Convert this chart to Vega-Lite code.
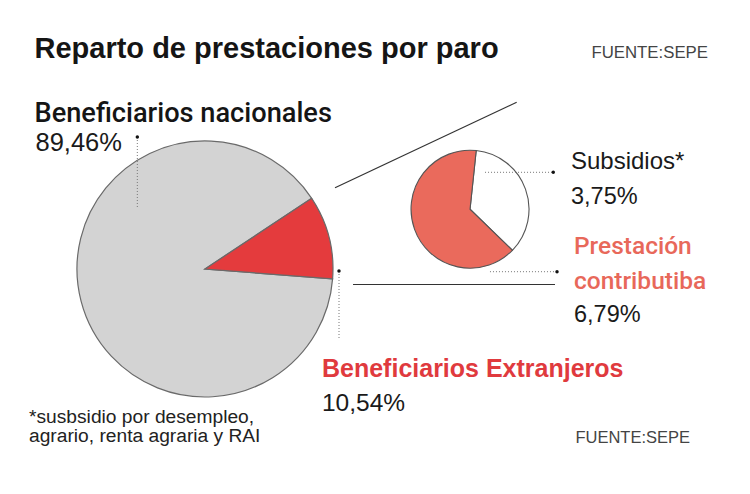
{
  "$schema": "https://vega.github.io/schema/vega-lite/v6.json",
  "width": 750,
  "height": 494,
  "autosize": {"type": "fit", "contains": "padding"},
  "padding": 0,
  "background": "white",
  "config": {
    "view": {"stroke": null},
    "font": "Liberation Sans",
    "text": {"font": "Liberation Sans", "align": "left", "baseline": "alphabetic", "color": "#1a1a1a"},
    "locale": {"number": {"decimal": ",", "thousands": ".", "grouping": [3], "currency": ["", " €"]}}
  },
  "datasets": {
    "reparto": [
      {"grafico": "Total", "categoria": "Beneficiarios nacionales", "valor": 0.8946},
      {"grafico": "Total", "categoria": "Beneficiarios Extranjeros", "valor": 0.1054},
      {"grafico": "Extranjeros", "categoria": "Subsidios*", "valor": 0.0375},
      {"grafico": "Extranjeros", "categoria": "Prestación contributiba", "valor": 0.0679}
    ]
  },
  "layer": [
    {
      "data": {"name": "reparto"},
      "transform": [{"filter": "datum.grafico === 'Total'"}],
      "mark": {"type": "arc", "radius": 128, "stroke": "#6a6a6a", "strokeWidth": 1.2},
      "encoding": {
        "theta": {"field": "valor", "type": "quantitative", "stack": true, "scale": {"range": [0.986, 7.269]}},
        "order": {"field": "valor", "sort": "ascending"},
        "color": {"field": "categoria", "type": "nominal", "legend": null,
          "scale": {"domain": ["Beneficiarios nacionales", "Beneficiarios Extranjeros", "Subsidios*", "Prestación contributiba"],
                    "range": ["#d3d3d3", "#e43b3d", "#ffffff", "#ea6a5c"]}},
        "x": {"datum": 27.33, "type": "quantitative", "scale": {"domain": [0, 100]}, "axis": null},
        "y": {"datum": 54.45, "type": "quantitative", "scale": {"domain": [100, 0]}, "axis": null}
      }
    },
    {
      "data": {"name": "reparto"},
      "transform": [{"filter": "datum.grafico === 'Extranjeros'"}],
      "mark": {"type": "arc", "radius": 59, "stroke": "#555555", "strokeWidth": 1.1},
      "encoding": {
        "theta": {"field": "valor", "type": "quantitative", "stack": true, "scale": {"range": [0.105, 6.388]}},
        "order": {"field": "valor", "sort": "ascending"},
        "color": {"field": "categoria", "type": "nominal", "legend": null,
          "scale": {"domain": ["Beneficiarios nacionales", "Beneficiarios Extranjeros", "Subsidios*", "Prestación contributiba"],
                    "range": ["#d3d3d3", "#e43b3d", "#ffffff", "#ea6a5c"]}},
        "x": {"datum": 62.67, "type": "quantitative", "scale": {"domain": [0, 100]}, "axis": null},
        "y": {"datum": 42.35, "type": "quantitative", "scale": {"domain": [100, 0]}, "axis": null}
      }
    },
    {
      "data": {"values": [{}]},
      "mark": {"type": "rule", "color": "#333333", "strokeWidth": 1.2},
      "encoding": {
        "x": {"datum": 44.67, "type": "quantitative", "scale": {"domain": [0, 100]}, "axis": null},
        "y": {"datum": 38.0, "type": "quantitative", "scale": {"domain": [100, 0]}, "axis": null},
        "x2": {"datum": 68.89},
        "y2": {"datum": 20.71}
      }
    },
    {
      "data": {"values": [{}]},
      "mark": {"type": "rule", "color": "#333333", "strokeWidth": 1.2},
      "encoding": {
        "x": {"datum": 47.07, "type": "quantitative", "scale": {"domain": [0, 100]}, "axis": null},
        "y": {"datum": 57.59, "type": "quantitative", "scale": {"domain": [100, 0]}, "axis": null},
        "x2": {"datum": 74.0}
      }
    },
    {
      "data": {"values": [{}]},
      "mark": {"type": "rule", "color": "#777777", "strokeWidth": 1, "strokeDash": [1, 2]},
      "encoding": {
        "x": {"datum": 18.31, "type": "quantitative", "scale": {"domain": [0, 100]}, "axis": null},
        "y": {"datum": 27.73, "type": "quantitative", "scale": {"domain": [100, 0]}, "axis": null},
        "y2": {"datum": 41.9}
      }
    },
    {
      "data": {"values": [{}]},
      "mark": {"type": "rule", "color": "#777777", "strokeWidth": 1, "strokeDash": [1, 2]},
      "encoding": {
        "x": {"datum": 45.2, "type": "quantitative", "scale": {"domain": [0, 100]}, "axis": null},
        "y": {"datum": 54.86, "type": "quantitative", "scale": {"domain": [100, 0]}, "axis": null},
        "y2": {"datum": 68.83}
      }
    },
    {
      "data": {"values": [{}]},
      "mark": {"type": "rule", "color": "#777777", "strokeWidth": 1, "strokeDash": [1, 2]},
      "encoding": {
        "x": {"datum": 64.67, "type": "quantitative", "scale": {"domain": [0, 100]}, "axis": null},
        "y": {"datum": 34.88, "type": "quantitative", "scale": {"domain": [100, 0]}, "axis": null},
        "x2": {"datum": 73.77}
      }
    },
    {
      "data": {"values": [{}]},
      "mark": {"type": "rule", "color": "#777777", "strokeWidth": 1, "strokeDash": [1, 2]},
      "encoding": {
        "x": {"datum": 65.33, "type": "quantitative", "scale": {"domain": [0, 100]}, "axis": null},
        "y": {"datum": 55.0, "type": "quantitative", "scale": {"domain": [100, 0]}, "axis": null},
        "x2": {"datum": 74.27}
      }
    },
    {
      "data": {"values": [{}]},
      "mark": {"type": "point", "filled": true, "size": 12, "color": "#111111", "opacity": 1},
      "encoding": {
        "x": {"datum": 18.31, "type": "quantitative", "scale": {"domain": [0, 100]}, "axis": null},
        "y": {"datum": 27.73, "type": "quantitative", "scale": {"domain": [100, 0]}, "axis": null}
      }
    },
    {
      "data": {"values": [{}]},
      "mark": {"type": "point", "filled": true, "size": 12, "color": "#111111", "opacity": 1},
      "encoding": {
        "x": {"datum": 45.2, "type": "quantitative", "scale": {"domain": [0, 100]}, "axis": null},
        "y": {"datum": 54.86, "type": "quantitative", "scale": {"domain": [100, 0]}, "axis": null}
      }
    },
    {
      "data": {"values": [{}]},
      "mark": {"type": "point", "filled": true, "size": 12, "color": "#111111", "opacity": 1},
      "encoding": {
        "x": {"datum": 73.77, "type": "quantitative", "scale": {"domain": [0, 100]}, "axis": null},
        "y": {"datum": 34.88, "type": "quantitative", "scale": {"domain": [100, 0]}, "axis": null}
      }
    },
    {
      "data": {"values": [{}]},
      "mark": {"type": "point", "filled": true, "size": 12, "color": "#111111", "opacity": 1},
      "encoding": {
        "x": {"datum": 74.27, "type": "quantitative", "scale": {"domain": [0, 100]}, "axis": null},
        "y": {"datum": 55.0, "type": "quantitative", "scale": {"domain": [100, 0]}, "axis": null}
      }
    },
    {
      "data": {"values": [{"texto": "Reparto de prestaciones por paro"}]},
      "mark": {"type": "text", "fontSize": 29, "fontWeight": "bold", "color": "#151515"},
      "encoding": {
        "text": {"field": "texto"},
        "x": {"datum": 4.6, "type": "quantitative", "scale": {"domain": [0, 100]}, "axis": null},
        "y": {"datum": 11.8, "type": "quantitative", "scale": {"domain": [100, 0]}, "axis": null}
      }
    },
    {
      "data": {"values": [{"texto": "FUENTE:SEPE"}]},
      "mark": {"type": "text", "fontSize": 16.8, "align": "right", "color": "#444444"},
      "encoding": {
        "text": {"field": "texto"},
        "x": {"datum": 94.4, "type": "quantitative", "scale": {"domain": [0, 100]}, "axis": null},
        "y": {"datum": 11.8, "type": "quantitative", "scale": {"domain": [100, 0]}, "axis": null}
      }
    },
    {
      "data": {"values": [{"texto": "FUENTE:SEPE"}]},
      "mark": {"type": "text", "fontSize": 16.5, "align": "right", "color": "#444444"},
      "encoding": {
        "text": {"field": "texto"},
        "x": {"datum": 92.0, "type": "quantitative", "scale": {"domain": [0, 100]}, "axis": null},
        "y": {"datum": 89.68, "type": "quantitative", "scale": {"domain": [100, 0]}, "axis": null}
      }
    },
    {
      "data": {"values": [{"texto": "*susbsidio por desempleo,\nagrario, renta agraria y RAI"}]},
      "mark": {"type": "text", "fontSize": 19.2, "lineBreak": "\n", "lineHeight": 19, "color": "#222222"},
      "encoding": {
        "text": {"field": "texto"},
        "x": {"datum": 3.87, "type": "quantitative", "scale": {"domain": [0, 100]}, "axis": null},
        "y": {"datum": 85.57, "type": "quantitative", "scale": {"domain": [100, 0]}, "axis": null}
      }
    },
    {
      "data": {"name": "reparto"},
      "transform": [{"filter": "datum.categoria === 'Beneficiarios nacionales'"}],
      "mark": {"type": "text", "fontSize": 27.2, "font": "Roboto", "fontWeight": 500, "color": "#151515"},
      "encoding": {
        "text": {"field": "categoria"},
        "x": {"datum": 4.6, "type": "quantitative", "scale": {"domain": [0, 100]}, "axis": null},
        "y": {"datum": 24.64, "type": "quantitative", "scale": {"domain": [100, 0]}, "axis": null}
      }
    },
    {
      "data": {"name": "reparto"},
      "transform": [{"filter": "datum.categoria === 'Beneficiarios nacionales'"}],
      "mark": {"type": "text", "fontSize": 25.5},
      "encoding": {
        "text": {"field": "valor", "type": "quantitative", "format": ".2%"},
        "x": {"datum": 4.73, "type": "quantitative", "scale": {"domain": [0, 100]}, "axis": null},
        "y": {"datum": 30.51, "type": "quantitative", "scale": {"domain": [100, 0]}, "axis": null}
      }
    },
    {
      "data": {"name": "reparto"},
      "transform": [{"filter": "datum.categoria === 'Subsidios*'"}],
      "mark": {"type": "text", "fontSize": 24},
      "encoding": {
        "text": {"field": "categoria"},
        "x": {"datum": 76.13, "type": "quantitative", "scale": {"domain": [0, 100]}, "axis": null},
        "y": {"datum": 34.27, "type": "quantitative", "scale": {"domain": [100, 0]}, "axis": null}
      }
    },
    {
      "data": {"name": "reparto"},
      "transform": [{"filter": "datum.categoria === 'Subsidios*'"}],
      "mark": {"type": "text", "fontSize": 23.5},
      "encoding": {
        "text": {"field": "valor", "type": "quantitative", "format": ".2%"},
        "x": {"datum": 76.13, "type": "quantitative", "scale": {"domain": [0, 100]}, "axis": null},
        "y": {"datum": 41.3, "type": "quantitative", "scale": {"domain": [100, 0]}, "axis": null}
      }
    },
    {
      "data": {"name": "reparto"},
      "transform": [{"filter": "datum.categoria === 'Prestación contributiba'"}],
      "mark": {"type": "text", "fontSize": 24.5, "font": "Roboto", "fontWeight": 500, "lineBreak": " ", "lineHeight": 34.7, "color": "#e8685a"},
      "encoding": {
        "text": {"field": "categoria"},
        "x": {"datum": 76.53, "type": "quantitative", "scale": {"domain": [0, 100]}, "axis": null},
        "y": {"datum": 51.48, "type": "quantitative", "scale": {"domain": [100, 0]}, "axis": null}
      }
    },
    {
      "data": {"name": "reparto"},
      "transform": [{"filter": "datum.categoria === 'Prestación contributiba'"}],
      "mark": {"type": "text", "fontSize": 23.5},
      "encoding": {
        "text": {"field": "valor", "type": "quantitative", "format": ".2%"},
        "x": {"datum": 76.53, "type": "quantitative", "scale": {"domain": [0, 100]}, "axis": null},
        "y": {"datum": 65.12, "type": "quantitative", "scale": {"domain": [100, 0]}, "axis": null}
      }
    },
    {
      "data": {"name": "reparto"},
      "transform": [{"filter": "datum.categoria === 'Beneficiarios Extranjeros'"}],
      "mark": {"type": "text", "fontSize": 25, "fontWeight": "bold", "color": "#e03a3e"},
      "encoding": {
        "text": {"field": "categoria"},
        "x": {"datum": 42.93, "type": "quantitative", "scale": {"domain": [0, 100]}, "axis": null},
        "y": {"datum": 76.26, "type": "quantitative", "scale": {"domain": [100, 0]}, "axis": null}
      }
    },
    {
      "data": {"name": "reparto"},
      "transform": [{"filter": "datum.categoria === 'Beneficiarios Extranjeros'"}],
      "mark": {"type": "text", "fontSize": 24.5},
      "encoding": {
        "text": {"field": "valor", "type": "quantitative", "format": ".2%"},
        "x": {"datum": 42.93, "type": "quantitative", "scale": {"domain": [0, 100]}, "axis": null},
        "y": {"datum": 83.14, "type": "quantitative", "scale": {"domain": [100, 0]}, "axis": null}
      }
    }
  ],
  "resolve": {"scale": {"theta": "independent"}}
}
